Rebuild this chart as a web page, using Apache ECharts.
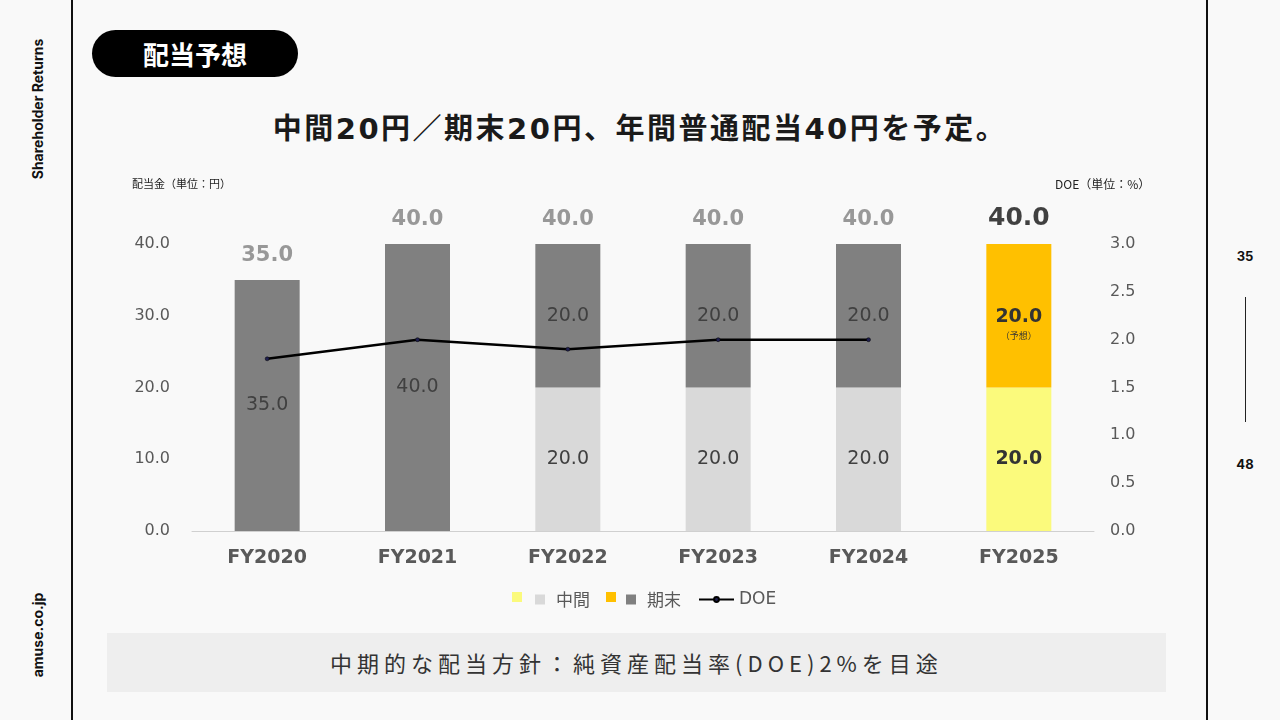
<!DOCTYPE html>
<html>
<head>
<meta charset="utf-8">
<script src="https://cdn.jsdelivr.net/npm/echarts@6/dist/echarts.min.js"></script>
<style>
  html, body { margin: 0; padding: 0; background: #f9f9f9; }
  #page { position: relative; width: 1280px; height: 720px; overflow: hidden; background: #f9f9f9;
          font-family: "Noto Sans CJK JP", "Noto Sans", sans-serif; }
  #chart { position: absolute; left: 0; top: 0; width: 1280px; height: 720px; }
  .vline { position: absolute; top: 0; height: 720px; width: 2px; background: #111; }
  .side { position: absolute; transform: translate(-50%, -50%) rotate(-90deg); white-space: nowrap;
          font-family: "Inter", "Noto Sans", sans-serif; font-weight: 700; font-size: 14px; color: #111; }
  .pg { position: absolute; transform: translate(-50%, -50%); font-family: "Inter", sans-serif;
        font-weight: 700; font-size: 13px; color: #111; }
  #pill { position: absolute; left: 92px; top: 30px; width: 206px; height: 47px; border-radius: 24px;
          background: #000; color: #fff; font-weight: 700; font-size: 26px; line-height: 47px; text-align: center; }
  #headline { position: absolute; left: 0; width: 1280px; top: 105px; text-align: center;
              font-family: "DejaVu Sans", "Noto Sans CJK JP", sans-serif;
              font-weight: 700; font-size: 29px; color: #1a1a1a; letter-spacing: 2.5px; }
  #policy { position: absolute; left: 107px; top: 633px; width: 1059px; height: 59px; background: #eeeeee;
            text-align: center; line-height: 59px; font-size: 22px; color: #333; letter-spacing: 5px; }
</style>
</head>
<body>
<div id="page">
  <div class="vline" style="left:71px"></div>
  <div class="vline" style="left:1206px"></div>
  <div class="side" style="left:37px; top:109px">Shareholder Returns</div>
  <div class="side" style="left:37px; top:635px">amuse.co.jp</div>
  <div class="pg" style="left:1245px; top:256px">35</div>
  <div style="position:absolute; left:1245px; top:297px; width:1px; height:125px; background:#222"></div>
  <div class="pg" style="left:1245px; top:464px">48</div>
  <div id="pill">配当予想</div>
  <div id="headline">中間20円／期末20円、年間普通配当40円を予定。</div>
  <div id="chart"></div>
  <div id="policy">中期的な配当方針：純資産配当率(DOE)2%を目途</div>
</div>
<script>
var categories = ['FY2020', 'FY2021', 'FY2022', 'FY2023', 'FY2024', 'FY2025'];
var interimDiv = [null, null, 20, 20, 20, 20];   // 中間
var yearEndDiv = [35, 40, 20, 20, 20, 20];       // 期末
var totalDiv = [35, 40, 40, 40, 40, 40];
var doeRate = [1.8, 2.0, 1.9, 2.0, 2.0, null];   // DOE %
var leftTicks = [0, 40, 10];
var rightTicks = [0, 3, 0.5];

var NUM = '"DejaVu Sans", Verdana, sans-serif';
var JP = '"Noto Sans CJK JP", sans-serif';
var lastIdx = categories.length - 1;

var interimData = interimDiv.map(function (v, i) {
    if (i == lastIdx) {
        return { value: v, itemStyle: { color: '#fbfa7c' },
                 label: { fontWeight: 'bold', color: '#333' } };
    }
    return v;
});
var yearEndData = yearEndDiv.map(function (v, i) {
    if (i == lastIdx) {
        return { value: v, itemStyle: { color: '#ffc000' },
                 label: { formatter: '{b|{c}.0}\n{s|（予想）}', offset: [0, 8] } };
    }
    return v;
});
var totalData = totalDiv.map(function (v, i) {
    if (i == lastIdx) {
        return { value: v, label: { color: '#111', fontSize: 25 } };
    }
    return v;
});

var chart = echarts.init(document.getElementById('chart'), null, { renderer: 'canvas' });
chart.setOption({
    backgroundColor: 'transparent',
    animation: false,
    grid: { left: 192, right: 186, top: 244, bottom: 189 },
    legend: [
        {
            data: ['中間', '期末'], left: 530, top: 586, itemWidth: 10, itemHeight: 10, itemGap: 36,
            icon: 'rect',
            textStyle: { fontFamily: JP, fontSize: 17, color: '#595959', padding: [0, 0, 0, 6] }
        },
        {
            data: ['DOE'], left: 693, top: 586, itemWidth: 35, itemHeight: 6,
            textStyle: { fontFamily: NUM, fontSize: 17, color: '#595959' }
        }
    ],
    graphic: [
        { type: 'rect', left: 512, top: 592, shape: { width: 10, height: 10 }, style: { fill: '#fbfa7c' } },
        { type: 'rect', left: 606, top: 592, shape: { width: 10, height: 10 }, style: { fill: '#ffc000' } },
        { type: 'text', left: 132, top: 178, style: { text: '配当金（単位：円）', fontFamily: JP, fontSize: 11, fill: '#222' } },
        { type: 'text', left: 1055, top: 178, style: { text: 'DOE（単位：%）', fontFamily: JP, fontSize: 12, fill: '#222' } }
    ],
    xAxis: {
        type: 'category',
        data: categories,
        axisLine: { lineStyle: { color: '#d0d0d0', width: 1 } },
        axisTick: { show: false },
        axisLabel: { fontFamily: NUM, fontWeight: 'bold', fontSize: 19, color: '#595959', margin: 18 }
    },
    yAxis: [
        {
            type: 'value', min: leftTicks[0], max: leftTicks[1], interval: leftTicks[2],
            splitLine: { show: false },
            axisLabel: { fontFamily: NUM, fontSize: 16, color: '#595959', margin: 22,
                         formatter: function (v) { return v.toFixed(1); } }
        },
        {
            type: 'value', min: rightTicks[0], max: rightTicks[1], interval: rightTicks[2],
            splitLine: { show: false },
            axisLabel: { fontFamily: NUM, fontSize: 16, color: '#595959', margin: 16,
                         formatter: function (v) { return v.toFixed(1); } }
        }
    ],
    series: [
        {
            name: '中間', type: 'bar', stack: 'div', barWidth: 65,
            itemStyle: { color: '#d9d9d9' },
            data: interimData,
            label: { show: true, position: 'inside', fontFamily: NUM, fontSize: 19, color: '#404040',
                     formatter: function (p) { return p.value.toFixed(1); } }
        },
        {
            name: '期末', type: 'bar', stack: 'div', barWidth: 65,
            itemStyle: { color: '#808080' },
            data: yearEndData,
            label: {
                show: true, position: 'inside', fontFamily: NUM, fontSize: 19, color: '#404040',
                formatter: function (p) { return p.value.toFixed(1); },
                rich: {
                    b: { fontFamily: NUM, fontSize: 19, fontWeight: 'bold', color: '#333', lineHeight: 24 },
                    s: { fontFamily: JP, fontSize: 9, color: '#333', lineHeight: 14 }
                }
            }
        },
        {
            name: '合計', type: 'scatter', symbolSize: 1, itemStyle: { color: 'transparent' },
            data: totalData, silent: true,
            label: { show: true, position: 'top', distance: 13, fontFamily: NUM, fontWeight: 'bold',
                     fontSize: 21, color: '#7f7f7f',
                     formatter: function (p) { return p.value.toFixed(1); } }
        },
        {
            name: 'DOE', type: 'line', yAxisIndex: 1, data: doeRate,
            symbol: 'circle', symbolSize: 4, showSymbol: true,
            lineStyle: { color: '#000', width: 2.5 },
            itemStyle: { color: '#1f1f4f', borderColor: '#000', borderWidth: 0.5 }
        }
    ]
});
</script>
</body>
</html>
